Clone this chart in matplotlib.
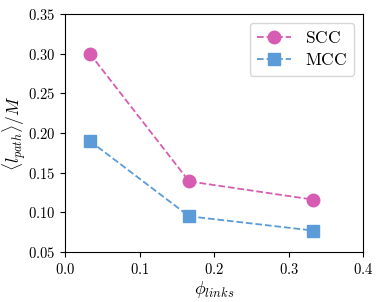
import matplotlib
matplotlib.use("Agg")
import matplotlib.pyplot as plt
from matplotlib.ticker import FuncFormatter

plt.rcParams['mathtext.fontset'] = 'cm'
plt.rcParams['font.family'] = 'serif'
plt.rcParams['font.serif'] = ['DejaVu Serif']

phi = [1/30, 1/6, 1/3]
scc = [0.300, 0.139, 0.116]
mcc = [0.190, 0.095, 0.077]

fig = plt.figure(figsize=(3.82, 3.02), dpi=100)
ax = fig.add_axes([65/382, 50/302, 298/382, 238/302])

ax.plot(phi, scc, '--o', color='#d65db1', markersize=9, lw=1.3, label=r'$\mathrm{SCC}$')
ax.plot(phi, mcc, '--s', color='#5a9bd8', markersize=8.5, lw=1.3, label=r'$\mathrm{MCC}$')

ax.set_xlim(0, 0.4)
ax.set_ylim(0.05, 0.35)
ax.set_xticks([0.0, 0.1, 0.2, 0.3, 0.4])
ax.set_yticks([0.05, 0.10, 0.15, 0.20, 0.25, 0.30, 0.35])
ax.xaxis.set_major_formatter(FuncFormatter(lambda v, p: r'$%.1f$' % v))
ax.yaxis.set_major_formatter(FuncFormatter(lambda v, p: r'$%.2f$' % v))
ax.tick_params(labelsize=10.5)

ax.set_xlabel(r'$\phi_{links}$', fontsize=13, labelpad=2)
ax.set_ylabel(r'$\langle l_{path}\rangle/M$', fontsize=12.5)
ax.yaxis.set_label_coords(-0.125, 0.5)

ax.legend(loc='upper right', fontsize=12.5, handlelength=2, borderpad=0.4,
          labelspacing=0.3, handletextpad=0.8)

fig.savefig('out.png', dpi=100)
